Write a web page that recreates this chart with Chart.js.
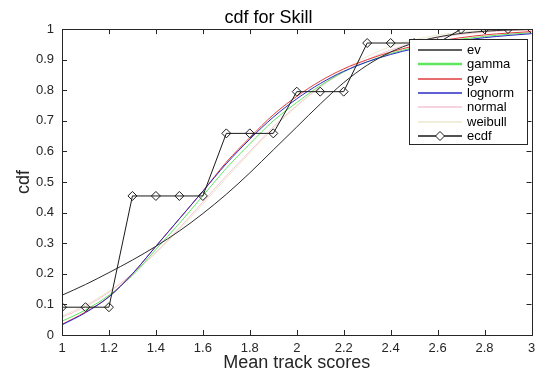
<!DOCTYPE html>
<html>
<head>
<meta charset="utf-8">
<script src="https://cdn.jsdelivr.net/npm/chart.js@4.4.0/dist/chart.umd.min.js"></script>
<style>
  html, body { margin: 0; padding: 0; background: #fff; }
</style>
</head>
<body>
<canvas id="out" width="537" height="378"></canvas>
<script>
const scores = [1.0, 1.1, 1.2, 1.3, 1.4, 1.5, 1.6, 1.7, 1.8, 1.9, 2.0, 2.1, 2.2, 2.3, 2.4, 2.5, 2.6, 2.7, 2.8, 2.9, 3.0];

const evCdf      = [0.13, 0.165, 0.204, 0.245, 0.29, 0.34, 0.397, 0.46, 0.53, 0.605, 0.68, 0.755, 0.825, 0.882, 0.925, 0.955, 0.974, 0.986, 0.993, 0.997, 0.999];
const gammaCdf   = [0.045, 0.082, 0.13, 0.195, 0.28, 0.365, 0.455, 0.545, 0.625, 0.70, 0.76, 0.815, 0.86, 0.893, 0.92, 0.94, 0.955, 0.967, 0.976, 0.983, 0.988];
const gevCdf     = [0.035, 0.075, 0.125, 0.20, 0.29, 0.38, 0.47, 0.565, 0.645, 0.72, 0.78, 0.83, 0.87, 0.90, 0.925, 0.945, 0.96, 0.972, 0.981, 0.987, 0.992];
const lognormCdf = [0.033, 0.073, 0.125, 0.20, 0.29, 0.38, 0.47, 0.56, 0.64, 0.712, 0.772, 0.822, 0.862, 0.893, 0.917, 0.936, 0.95, 0.962, 0.972, 0.979, 0.985];
const normalCdf  = [0.058, 0.093, 0.14, 0.20, 0.27, 0.35, 0.435, 0.52, 0.60, 0.68, 0.75, 0.81, 0.86, 0.90, 0.932, 0.955, 0.972, 0.983, 0.99, 0.995, 0.997];
const weibullCdf = [0.062, 0.098, 0.143, 0.20, 0.268, 0.345, 0.428, 0.513, 0.595, 0.675, 0.748, 0.813, 0.868, 0.91, 0.943, 0.965, 0.98, 0.99, 0.995, 0.998, 0.999];
const ecdf       = [0.0909, 0.0909, 0.0909, 0.4545, 0.4545, 0.4545, 0.4545, 0.6591, 0.6591, 0.6591, 0.7955, 0.7955, 0.7955, 0.9545, 0.9545, 0.9545, 0.9545, 1, 1, 1, 1];

const seriesNames  = ['ev', 'gamma', 'gev', 'lognorm', 'normal', 'weibull', 'ecdf'];
const seriesColors = ['#2b2b2b', '#5ee65e', '#e23b3b', '#2a2ac8', '#f5c6d2', '#ece9cf', '#1a1a1a'];
const xTicks = [1, 1.2, 1.4, 1.6, 1.8, 2, 2.2, 2.4, 2.6, 2.8, 3];
const yTicks = [0, 0.1, 0.2, 0.3, 0.4, 0.5, 0.6, 0.7, 0.8, 0.9, 1];

const FONT = 'Liberation Sans, Arial, sans-serif';
const AXIS = '#262626';

const toPoints = (ys) => scores.map((x, i) => ({x: x, y: ys[i]}));

function curve(i, data, order) {
  return {
    label: seriesNames[i],
    data: toPoints(data),
    borderColor: seriesColors[i],
    borderWidth: 1,
    pointRadius: 0,
    fill: false,
    cubicInterpolationMode: 'monotone',
    order: order
  };
}

const datasets = [
  curve(0, evCdf, 1),
  curve(1, gammaCdf, 4),
  curve(2, gevCdf, 3),
  curve(3, lognormCdf, 2),
  curve(4, normalCdf, 5),
  curve(5, weibullCdf, 6),
  {
    label: seriesNames[6],
    data: toPoints(ecdf),
    borderColor: seriesColors[6],
    borderWidth: 1,
    tension: 0,
    pointStyle: 'rectRot',
    pointRadius: 4.5,
    pointBorderWidth: 1,
    pointBorderColor: seriesColors[6],
    pointBackgroundColor: 'rgba(0,0,0,0)',
    fill: false,
    order: 0
  }
];

// MATLAB-like box with inward ticks on every side
const frame = {
  id: 'frame',
  afterDatasetsDraw(chart) {
    const {ctx, chartArea: a, scales: {x, y}} = chart;
    ctx.save();
    ctx.strokeStyle = AXIS;
    ctx.lineWidth = 1;
    ctx.strokeRect(Math.round(a.left) + 0.5, Math.round(a.top) + 0.5,
      Math.round(a.right - a.left), Math.round(a.bottom - a.top));
    ctx.beginPath();
    const len = 5;
    for (const v of xTicks) {
      const px = Math.round(x.getPixelForValue(v)) + 0.5;
      ctx.moveTo(px, a.bottom); ctx.lineTo(px, a.bottom - len);
      ctx.moveTo(px, a.top); ctx.lineTo(px, a.top + len);
    }
    for (const v of yTicks) {
      const py = Math.round(y.getPixelForValue(v)) + 0.5;
      ctx.moveTo(a.left, py); ctx.lineTo(a.left + len, py);
      ctx.moveTo(a.right, py); ctx.lineTo(a.right - len, py);
    }
    ctx.stroke();
    ctx.restore();
  }
};

// legend box in the upper right
const boxLegend = {
  id: 'boxLegend',
  afterDraw(chart) {
    const {ctx, chartArea: a} = chart;
    const left = Math.round(a.right) - 123, top = Math.round(a.top) + 10, w = 118, h = 105;
    ctx.save();
    ctx.fillStyle = '#fff';
    ctx.fillRect(left, top, w, h);
    ctx.strokeStyle = AXIS;
    ctx.lineWidth = 1;
    ctx.strokeRect(left + 0.5, top + 0.5, w, h);
    ctx.font = '13px ' + FONT;
    ctx.textBaseline = 'middle';
    ctx.textAlign = 'left';
    seriesNames.forEach((name, i) => {
      const cy = Math.round(top + 11 + i * 14.3);
      ctx.strokeStyle = seriesColors[i];
      ctx.lineWidth = name === 'gamma' ? 2.5 : 1.5;
      ctx.beginPath();
      ctx.moveTo(left + 9, cy);
      ctx.lineTo(left + 53, cy);
      ctx.stroke();
      if (name === 'ecdf') {
        ctx.lineWidth = 1;
        ctx.fillStyle = '#fff';
        ctx.beginPath();
        ctx.moveTo(left + 31, cy - 4.5);
        ctx.lineTo(left + 35.5, cy);
        ctx.lineTo(left + 31, cy + 4.5);
        ctx.lineTo(left + 26.5, cy);
        ctx.closePath();
        ctx.fill();
        ctx.stroke();
      }
      ctx.fillStyle = '#000';
      ctx.fillText(name, left + 58, cy + 0.5);
    });
    ctx.restore();
  }
};

new Chart(document.getElementById('out').getContext('2d'), {
  type: 'line',
  data: {datasets: datasets},
  options: {
    responsive: false,
    animation: false,
    layout: {padding: {left: 0, right: 0, top: 0, bottom: 0}},
    plugins: {
      legend: {display: false},
      tooltip: {enabled: false},
      title: {
        display: true,
        text: 'cdf for Skill',
        color: '#000',
        font: {family: FONT, size: 18, weight: 'normal'},
        padding: {top: 7.5, bottom: 0}
      }
    },
    scales: {
      x: {
        type: 'linear',
        min: 1,
        max: 3,
        afterBuildTicks: (s) => { s.ticks = xTicks.map(v => ({value: v})); },
        afterFit: (s) => { s.height = 43; s.paddingLeft = 0; s.paddingRight = 5; },
        grid: {display: false, drawTicks: false},
        border: {display: false},
        ticks: {
          color: AXIS,
          padding: 6,
          maxRotation: 0,
          font: {family: FONT, size: 13},
          callback: (v) => String(v)
        },
        title: {
          display: true,
          text: 'Mean track scores',
          color: AXIS,
          font: {family: FONT, size: 18},
          padding: {top: 0, bottom: 4}
        }
      },
      y: {
        type: 'linear',
        min: 0,
        max: 1,
        afterBuildTicks: (s) => { s.ticks = yTicks.map(v => ({value: v})); },
        afterFit: (s) => { s.width = 62; },
        grid: {display: false, drawTicks: false},
        border: {display: false},
        ticks: {
          color: AXIS,
          padding: 8,
          font: {family: FONT, size: 13},
          callback: (v) => String(v)
        },
        title: {
          display: true,
          text: 'cdf',
          color: AXIS,
          font: {family: FONT, size: 18},
          padding: {top: 13, bottom: 0}
        }
      }
    }
  },
  plugins: [frame, boxLegend]
});
</script>
</body>
</html>
